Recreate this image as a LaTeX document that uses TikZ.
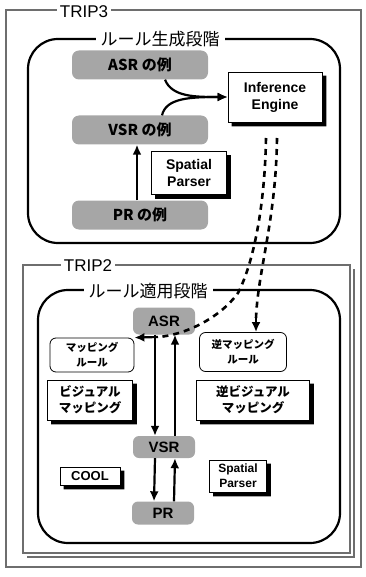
\documentclass[tikz,border=0pt]{standalone}
\usepackage{fontspec}
\setmainfont{Liberation Sans}
\newfontfamily\jp{Noto Sans CJK JP}
\usetikzlibrary{arrows.meta,positioning}
\definecolor{stipple}{RGB}{110,110,110}

\begin{document}
\begin{tikzpicture}[x=1pt,y=-1pt,
  example/.style={fill=black!35,rounded corners=7pt,inner sep=1pt,minimum width=136pt,minimum height=29pt,font=\jp\bfseries\fontsize{15}{15}\selectfont},
  rep/.style={fill=black!35,rounded corners=6pt,inner sep=1pt,minimum width=62pt,font=\bfseries\fontsize{15}{15}\selectfont},
  tool/.style={draw,thick,fill=white,inner sep=1pt,align=center,font=\bfseries\fontsize{14}{17}\selectfont},
  rulebox/.style={draw,thick,fill=white,rounded corners=6pt,inner sep=1pt,align=center,font=\jp\bfseries\fontsize{10.5}{15}\selectfont},
  stage/.style={line width=2.2pt,rounded corners=30pt},
  frame/.style={draw=stipple,line width=2.5pt},
  flow/.style={-{Latex[length=10pt,width=9pt]},line width=2.2pt},
  rulelink/.style={line width=2.6pt,dash pattern=on 6pt off 5pt}
]
\useasboundingbox (0,0) rectangle (365,577);
% TRIP3 frame
\draw[frame] (6,10) rectangle (361,567);
\node[fill=white,font=\fontsize{17}{17}\selectfont] (trip3) at (84,12) {TRIP3};
% rule generation stage
\draw[stage] (28,39) rectangle (340,243);
\node[fill=white,inner xsep=5pt,font=\jp\fontsize{17}{17}\selectfont] (gen) at (160,39) {ルール生成段階};
\node[example] (asrex) at (140,65) {ASR の例};
\node[example] (vsrex) at (140,130) {VSR の例};
\node[example] (prex) at (140,215) {PR の例};
\node[tool,minimum width=94pt,minimum height=50pt] (ie) at (275,97) {Inference\\Engine};
\node[tool,minimum width=75pt,minimum height=43pt] (sp1) at (189,173) {Spatial\\Parser};
\draw[flow] ([xshift=-3pt]prex.north) -- ([xshift=-3pt]vsrex.south);
\draw[flow] ([xshift=25pt]asrex.south) .. controls (172,97) and (195,97) .. (ie.west);
\draw[flow] ([xshift=22pt]vsrex.north) .. controls (166,98) and (190,97) .. (ie.west);
% TRIP2 frame with shadow
\draw[frame] (23,265) rectangle (350,553);
\draw[frame] (354,269) -- (354,557) -- (27,557);
\node[fill=white,font=\fontsize{17}{17}\selectfont] (trip2) at (88,266) {TRIP2};
% rule application stage
\draw[stage] (38,290) rectangle (340,543);
\node[fill=white,inner xsep=5pt,font=\jp\fontsize{17}{17}\selectfont] (app) at (148,291) {ルール適用段階};
\node[rep,minimum height=27pt] (asr) at (164,321) {ASR};
\node[rep,minimum height=22pt] (vsr) at (164,447) {VSR};
\node[rep,minimum height=23pt] (pr) at (163,513) {PR};
\node[rulebox,minimum width=84pt,minimum height=34pt] (mr) at (92,355) {マッピング\\ルール};
\node[rulebox,minimum width=87pt,minimum height=39pt] (imr) at (243,352) {逆マッピング\\ルール};
\node[tool,font=\jp\bfseries\fontsize{12.5}{16}\selectfont,minimum width=85pt,minimum height=40pt] (vm) at (90,400) {ビジュアル\\マッピング};
\node[tool,font=\jp\bfseries\fontsize{12.5}{16}\selectfont,minimum width=113pt,minimum height=40pt] (ivm) at (253,400) {逆ビジュアル\\マッピング};
\node[tool,font=\bfseries\fontsize{13}{15}\selectfont,minimum width=60pt,minimum height=18pt] (cool) at (90,476) {COOL};
\node[tool,font=\bfseries\fontsize{12}{15}\selectfont,minimum width=57pt,minimum height=32pt] (sp2) at (238,476) {Spatial\\Parser};
% shadows of the boxes
\foreach \n in {ie,sp1,vm,ivm,cool,sp2}{
  \fill[black] ([yshift=-4pt]\n.north east) -- ([xshift=4pt,yshift=-4pt]\n.north east)
    -- ([xshift=4pt,yshift=-4pt]\n.south east) -- ([xshift=4pt,yshift=-4pt]\n.south west)
    -- ([xshift=4pt]\n.south west) -- (\n.south east) -- cycle;
}
\draw[flow] ([xshift=-9pt]asr.south) -- ([xshift=-9pt]vsr.north);
\draw[flow] ([xshift=11pt]vsr.north) -- ([xshift=11pt]asr.south);
\draw[flow] ([xshift=-9pt]vsr.south) -- ([xshift=-9pt]pr.north);
\draw[flow] ([xshift=11pt]pr.north) -- ([xshift=11pt]vsr.south);
% rules from the inference engine
\coordinate (dl) at (266,138);
\coordinate (dr) at (277,138);
\coordinate (dj) at (158,337);
\draw[rulelink] (dl) .. controls (265,200) and (255,260) .. (238,293) .. controls (220,318) and (185,335) .. (dj);
\draw[flow] (dj) -- (mr.north east);
\draw[rulelink] (dr) .. controls (276,220) and (258,270) .. (256,318);
\draw[flow] (256,316) -- ([xshift=13pt]imr.north);
\end{tikzpicture}
\end{document}
